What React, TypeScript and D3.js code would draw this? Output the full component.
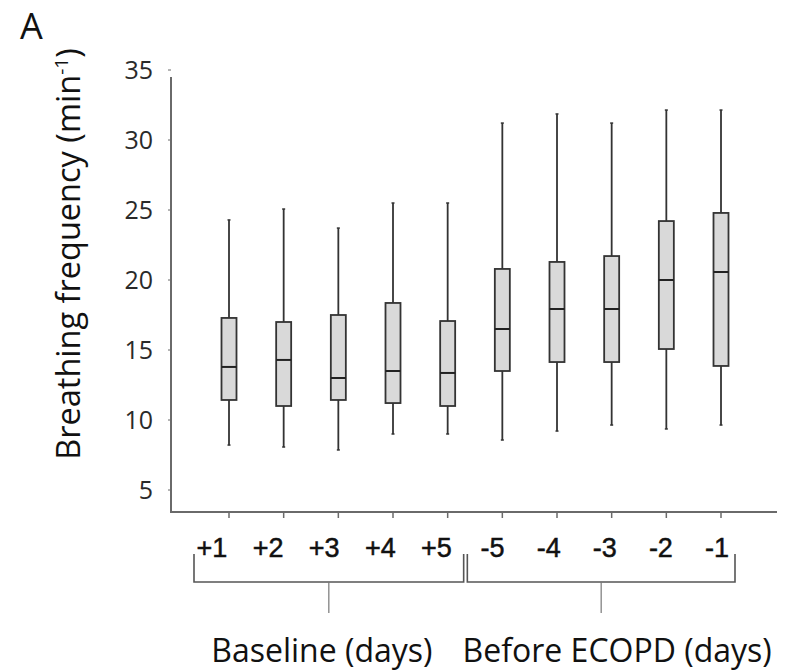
import { useRef, useEffect } from 'react';
import * as d3 from 'd3';

// day labels under the boxes
const days = ['+1', '+2', '+3', '+4', '+5', '-5', '-4', '-3', '-2', '-1'];

// box plot stats (breaths / min)
const whiskerLow = [8.21, 8.07, 7.86, 9.0, 9.0, 8.57, 9.21, 9.64, 9.36, 9.64];
const q1 = [11.43, 11.0, 11.43, 11.21, 11.0, 13.5, 14.14, 14.14, 15.07, 13.86];
const median = [13.79, 14.29, 13.0, 13.5, 13.36, 16.5, 17.93, 17.93, 20.0, 20.57];
const q3 = [17.29, 17.0, 17.5, 18.36, 17.07, 20.79, 21.29, 21.71, 24.21, 24.79];
const whiskerHigh = [24.29, 25.07, 23.71, 25.5, 25.5, 31.21, 31.86, 31.21, 32.14, 32.14];

const yTicks = [5, 10, 15, 20, 25, 30, 35];

const groupLabels = ['Baseline (days)', 'Before ECOPD (days)'];
const groupStart = [0, 5];
const groupEnd = [4, 9];

export default function App() {
    const svgRef = useRef<SVGSVGElement | null>(null);

    useEffect(() => {
        const svg = d3.select(svgRef.current);
        svg.selectAll('*').remove();

        const font = '"Open Sans", Lato, sans-serif';
        const axisColor = '#6a6a6a';

        // scales
        const y = d3.scaleLinear().domain([5, 35]).range([490, 70]);
        const x = d3.scalePoint<number>().domain(d3.range(days.length)).range([229, 721]);
        // the day labels sit a bit left of the boxes in the original
        const xLabel = d3.scalePoint<number>().domain(d3.range(days.length)).range([212, 717]);

        const axisBottomY = 512;
        const axisLeftX = 171;

        // y axis line + ticks
        svg.append('line')
            .attr('x1', axisLeftX).attr('x2', axisLeftX)
            .attr('y1', 77).attr('y2', axisBottomY)
            .attr('stroke', axisColor).attr('stroke-width', 2);

        svg.selectAll('.ytick')
            .data(yTicks)
            .enter()
            .append('line')
            .attr('x1', axisLeftX - 3).attr('x2', axisLeftX)
            .attr('y1', d => y(d)).attr('y2', d => y(d))
            .attr('stroke', axisColor).attr('stroke-width', 1);

        svg.selectAll('.ylabel')
            .data(yTicks)
            .enter()
            .append('text')
            .attr('x', 153)
            .attr('y', d => y(d))
            .attr('dy', '0.36em')
            .attr('text-anchor', 'end')
            .style('font-family', font)
            .style('font-size', '25px')
            .style('fill', '#2a2a2a')
            .text(d => d);

        // x axis line + ticks
        svg.append('line')
            .attr('x1', axisLeftX - 1).attr('x2', 777)
            .attr('y1', axisBottomY).attr('y2', axisBottomY)
            .attr('stroke', axisColor).attr('stroke-width', 2);

        svg.selectAll('.xtick')
            .data(d3.range(days.length))
            .enter()
            .append('line')
            .attr('x1', d => x(d)!).attr('x2', d => x(d)!)
            .attr('y1', axisBottomY).attr('y2', axisBottomY + 6)
            .attr('stroke', axisColor).attr('stroke-width', 1.5);

        svg.selectAll('.xlabel')
            .data(days)
            .enter()
            .append('text')
            .attr('x', (d, i) => xLabel(i)!)
            .attr('y', 557)
            .attr('text-anchor', 'middle')
            .style('font-family', '"Liberation Sans", Arial, sans-serif')
            .style('font-size', '27px')
            .style('fill', '#111')
            .style('stroke', '#111')
            .style('stroke-width', 0.5)
            .text(d => d);

        // boxes
        const boxW = 15;
        const boxes = svg.append('g');
        d3.range(days.length).forEach(i => {
            const cx = x(i)!;
            const g = boxes.append('g');
            // whiskers
            g.append('line')
                .attr('x1', cx).attr('x2', cx)
                .attr('y1', y(whiskerHigh[i])).attr('y2', y(q3[i]))
                .attr('stroke', '#333').attr('stroke-width', 1.8);
            g.append('line')
                .attr('x1', cx).attr('x2', cx)
                .attr('y1', y(q1[i])).attr('y2', y(whiskerLow[i]))
                .attr('stroke', '#333').attr('stroke-width', 1.8);
            // tiny whisker caps
            [whiskerHigh[i], whiskerLow[i]].forEach(v => {
                g.append('line')
                    .attr('x1', cx - 1.5).attr('x2', cx + 1.5)
                    .attr('y1', y(v)).attr('y2', y(v))
                    .attr('stroke', '#333').attr('stroke-width', 1.5);
            });
            // box
            g.append('rect')
                .attr('x', cx - boxW / 2)
                .attr('y', y(q3[i]))
                .attr('width', boxW)
                .attr('height', y(q1[i]) - y(q3[i]))
                .attr('fill', '#d9d9d9')
                .attr('stroke', '#333')
                .attr('stroke-width', 1.8);
            // median
            g.append('line')
                .attr('x1', cx - boxW / 2).attr('x2', cx + boxW / 2)
                .attr('y1', y(median[i])).attr('y2', y(median[i]))
                .attr('stroke', '#222').attr('stroke-width', 2);
        });

        // group brackets under the day labels
        const brTop = 554;
        const brBottom = 582;
        const stemBottom = 613;
        const labelNudge = [-7, 16];
        groupLabels.forEach((label, gi) => {
            const left = x(groupStart[gi])! - 35;
            const right = x(groupEnd[gi])! + (gi === 0 ? 16 : 14);
            const mid = (left + right) / 2;
            const path = d3.path();
            path.moveTo(left, brTop);
            path.lineTo(left, brBottom);
            path.lineTo(right, brBottom);
            path.lineTo(right, brTop);
            svg.append('path')
                .attr('d', path.toString())
                .attr('fill', 'none')
                .attr('stroke', '#555')
                .attr('stroke-width', 1.6);
            svg.append('line')
                .attr('x1', mid).attr('x2', mid)
                .attr('y1', brBottom).attr('y2', stemBottom)
                .attr('stroke', '#777').attr('stroke-width', 1.2);
            svg.append('text')
                .attr('x', mid + labelNudge[gi])
                .attr('y', 662)
                .attr('text-anchor', 'middle')
                .style('font-family', font)
                .style('font-size', '32px')
                .style('fill', '#111')
                .text(label);
        });

        // y axis title
        const title = svg.append('text')
            .attr('transform', 'translate(80, 254) rotate(-90)')
            .attr('text-anchor', 'middle')
            .style('font-family', font)
            .style('font-size', '32.5px')
            .style('fill', '#111');
        title.append('tspan').text('Breathing frequency (min');
        title.append('tspan')
            .attr('dy', -12)
            .style('font-size', '19px')
            .text('-1');
        title.append('tspan')
            .attr('dy', 12)
            .text(')');

        // panel letter
        svg.append('text')
            .attr('x', 20)
            .attr('y', 39)
            .style('font-family', font)
            .style('font-size', '36px')
            .style('fill', '#111')
            .text('A');
    }, []);

    return (
        <svg
            ref={svgRef}
            width={787}
            height={672}
            style={{ position: 'absolute', left: 0, top: 0, background: '#fff' }}
        ></svg>
    );
}
